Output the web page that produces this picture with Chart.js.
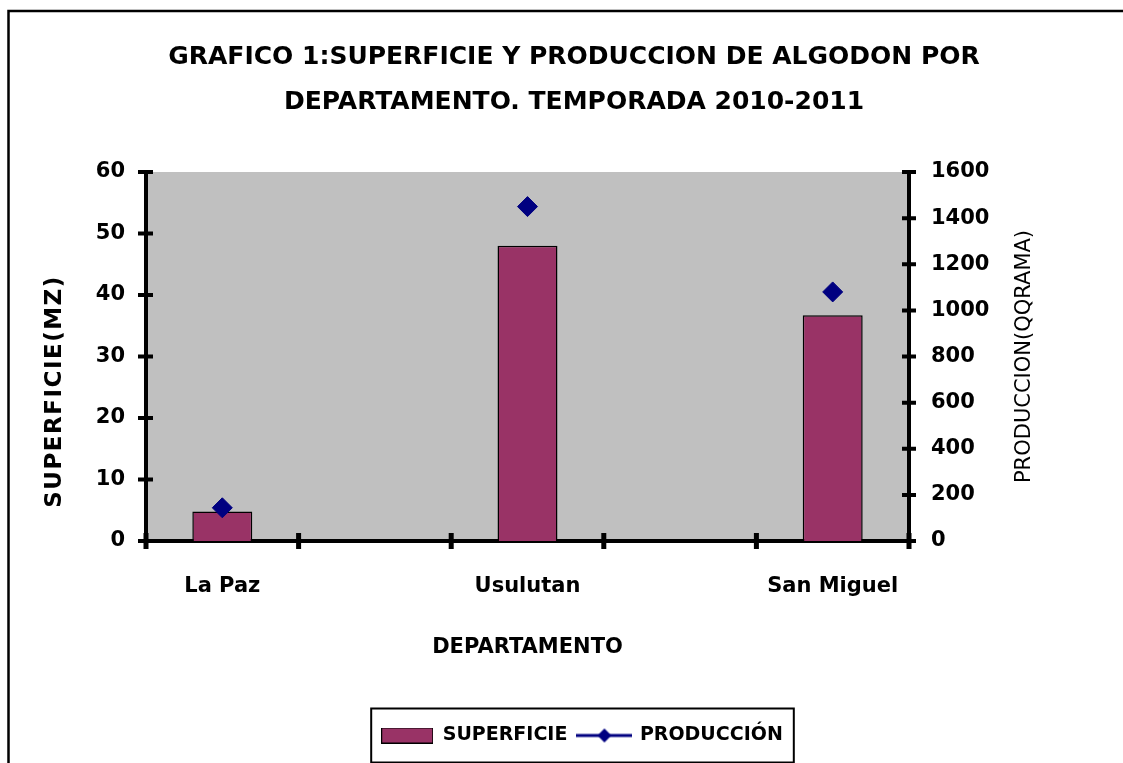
<!DOCTYPE html>
<html>
<head>
<meta charset="utf-8">
<title>Superficie y produccion de algodon</title>
<script src="https://cdn.jsdelivr.net/npm/chart.js@4/dist/chart.umd.min.js"></script>
<style>
  html, body { margin: 0; padding: 0; background: #fff; }
  #wrap { width: 1123px; height: 763px; }
</style>
</head>
<body>
<div id="wrap"><canvas id="chart" width="1123" height="763"></canvas></div>
<script>
const TITLE_LINES = ["GRAFICO 1:SUPERFICIE Y PRODUCCION DE ALGODON POR", "DEPARTAMENTO. TEMPORADA 2010-2011"];
// empty categories keep the gaps Excel left between departments
const DEPARTAMENTOS = ["La Paz", "", "Usulutan", "", "San Miguel"];
const SUPERFICIE = [4.8, null, 48, null, 36.7];
const PRODUCCION = [144, null, 1450, null, 1080];
const LEFT_TICKS = { min: 0, max: 60, step: 10 };
const RIGHT_TICKS = { min: 0, max: 1600, step: 200 };
const LEFT_TITLE = "SUPERFICIE(MZ)";
const RIGHT_TITLE = "PRODUCCION(QQRAMA)";
const X_TITLE = "DEPARTAMENTO";
const LEGEND_LABELS = ["SUPERFICIE", "PRODUCCIÓN"];

const BAR_COLOR = "#993366";
const LINE_COLOR = "#000080";
const PLOT_BG = "#C0C0C0";
const FONT = "'DejaVu Sans', Verdana, sans-serif";
const LEGEND_SHIFT = 8;

function legendSwatch() {
  const c = document.createElement("canvas");
  c.width = 52; c.height = 16;
  const ctx = c.getContext("2d");
  ctx.fillStyle = BAR_COLOR;
  ctx.fillRect(0.5, 0.5, 51, 15);
  ctx.strokeStyle = "#000";
  ctx.lineWidth = 1;
  ctx.strokeRect(0.5, 0.5, 51, 15);
  return c;
}

function legendLine() {
  const c = document.createElement("canvas");
  c.width = 56; c.height = 16;
  const ctx = c.getContext("2d");
  ctx.strokeStyle = LINE_COLOR;
  ctx.lineWidth = 3;
  ctx.beginPath(); ctx.moveTo(0, 8); ctx.lineTo(56, 8); ctx.stroke();
  ctx.fillStyle = LINE_COLOR;
  ctx.beginPath();
  ctx.moveTo(28, 1); ctx.lineTo(35, 8); ctx.lineTo(28, 15); ctx.lineTo(21, 8);
  ctx.closePath(); ctx.fill();
  return c;
}

const framePlugin = {
  id: "frame",
  afterUpdate(chart) {
    // legend sits a little right of the title centre in the original
    const lg = chart.legend;
    lg.left += LEGEND_SHIFT; lg.right += LEGEND_SHIFT;
    (lg.legendHitBoxes || []).forEach(h => { h.left += LEGEND_SHIFT; });
  },
  beforeDraw(chart) {
    const { ctx, chartArea: a } = chart;
    ctx.save();
    ctx.fillStyle = "#fff";
    ctx.fillRect(0, 0, chart.width, chart.height);
    ctx.fillStyle = PLOT_BG;
    ctx.fillRect(a.left, a.top, a.right - a.left, a.bottom - a.top);
    ctx.strokeStyle = "#000";
    ctx.lineWidth = 2.5;
    ctx.beginPath();
    ctx.moveTo(8.5, chart.height + 5);
    ctx.lineTo(8.5, 11);
    ctx.lineTo(chart.width + 5, 11);
    ctx.stroke();
    ctx.restore();
  },
  afterDraw(chart) {
    const { ctx, chartArea: a, scales } = chart;
    ctx.save();
    ctx.strokeStyle = "#000";
    ctx.fillStyle = "#000";
    // tick marks crossing the axes, Excel style
    ctx.lineWidth = 4;
    ctx.beginPath();
    scales.y.ticks.forEach((t, i) => {
      const y = scales.y.getPixelForTick(i);
      ctx.moveTo(a.left - 8, y); ctx.lineTo(a.left + 7, y);
    });
    scales.y1.ticks.forEach((t, i) => {
      const y = scales.y1.getPixelForTick(i);
      ctx.moveTo(a.right - 7, y); ctx.lineTo(a.right + 7, y);
    });
    ctx.stroke();
    ctx.lineWidth = 5;
    ctx.beginPath();
    for (let i = 0; i <= DEPARTAMENTOS.length; i++) {
      const x = scales.x.getPixelForValue(i - 0.5);
      ctx.moveTo(x, a.bottom - 8); ctx.lineTo(x, a.bottom + 8);
    }
    ctx.stroke();

    // box round the legend
    const hb = chart.legend.legendHitBoxes;
    if (hb && hb.length) {
      const first = hb[0], last = hb[hb.length - 1];
      const cy = first.top + first.height / 2;
      ctx.lineWidth = 2;
      ctx.strokeRect(first.left - 10, cy - 27, last.left + last.width + 21 - first.left, 54);
    }

    // vertical axis titles (right one reads bottom to top like the left)
    ctx.textAlign = "center";
    ctx.textBaseline = "middle";
    ctx.font = "21px " + FONT;
    ctx.save();
    ctx.translate(1025, (a.top + a.bottom) / 2);
    ctx.rotate(-Math.PI / 2);
    ctx.fillText(RIGHT_TITLE, 0, 0);
    ctx.restore();
    ctx.font = "bold 23px " + FONT;
    ctx.save();
    ctx.letterSpacing = "1.5px";
    ctx.translate(55, (a.top + a.bottom) / 2 + 35);
    ctx.rotate(-Math.PI / 2);
    ctx.fillText(LEFT_TITLE, 0, 0);
    ctx.letterSpacing = "0px";
    ctx.restore();
    ctx.restore();
  }
};

Chart.defaults.font.family = FONT;
Chart.defaults.color = "#000";

new Chart(document.getElementById("chart"), {
  data: {
    labels: DEPARTAMENTOS,
    datasets: [
      {
        type: "line",
        label: LEGEND_LABELS[1],
        data: PRODUCCION,
        yAxisID: "y1",
        showLine: false,
        pointStyle: "rectRot",
        pointRadius: 10,
        pointBackgroundColor: LINE_COLOR,
        pointBorderColor: LINE_COLOR,
        pointBorderWidth: 1,
        order: 0
      },
      {
        type: "bar",
        label: LEGEND_LABELS[0],
        data: SUPERFICIE,
        yAxisID: "y",
        backgroundColor: BAR_COLOR,
        borderColor: "#000",
        borderWidth: 1.5,
        barPercentage: 0.393,
        categoryPercentage: 1,
        order: 1
      }
    ]
  },
  options: {
    responsive: false,
    animation: false,
    layout: { padding: { top: 11, left: 25, right: 0, bottom: 8 } },
    plugins: {
      title: {
        display: true,
        text: TITLE_LINES,
        color: "#000",
        font: { size: 25, weight: "bold", lineHeight: 1.8 },
        padding: { top: 24, bottom: 47 }
      },
      legend: {
        position: "bottom",
        labels: {
          usePointStyle: true,
          pointStyleWidth: 52,
          boxHeight: 16,
          padding: 11,
          color: "#000",
          font: { size: 19, weight: "bold" },
          generateLabels: () => [
            { text: LEGEND_LABELS[0], pointStyle: legendSwatch(), fillStyle: BAR_COLOR, strokeStyle: "#000", lineWidth: 0, datasetIndex: 1 },
            { text: LEGEND_LABELS[1], pointStyle: legendLine(), fillStyle: LINE_COLOR, strokeStyle: LINE_COLOR, lineWidth: 0, datasetIndex: 0 }
          ]
        }
      },
      tooltip: { enabled: false }
    },
    scales: {
      x: {
        type: "category",
        offset: true,
        grid: { display: false, drawTicks: false, offset: true },
        border: { display: true, color: "#000", width: 4 },
        ticks: { padding: 33, font: { size: 21, weight: "bold" }, color: "#000", maxRotation: 0, autoSkip: false },
        title: { display: true, text: X_TITLE, color: "#000", font: { size: 21, weight: "bold" }, padding: { top: 4, bottom: 55 } },
        afterFit: s => { s.height = 174; }
      },
      y: {
        position: "left",
        min: LEFT_TICKS.min,
        max: LEFT_TICKS.max,
        grid: { display: false, drawTicks: false },
        border: { display: true, color: "#000", width: 4 },
        ticks: { stepSize: LEFT_TICKS.step, padding: 21, font: { size: 21, weight: "bold" }, color: "#000", callback: v => String(v) },
        afterFit: s => { s.width = 121; }
      },
      y1: {
        position: "right",
        min: RIGHT_TICKS.min,
        max: RIGHT_TICKS.max,
        grid: { display: false, drawTicks: false },
        border: { display: true, color: "#000", width: 4 },
        ticks: { stepSize: RIGHT_TICKS.step, padding: 22, font: { size: 21, weight: "bold" }, color: "#000", callback: v => String(v) },
        afterFit: s => { s.width = 214; }
      }
    }
  },
  plugins: [framePlugin]
});
</script>
</body>
</html>
